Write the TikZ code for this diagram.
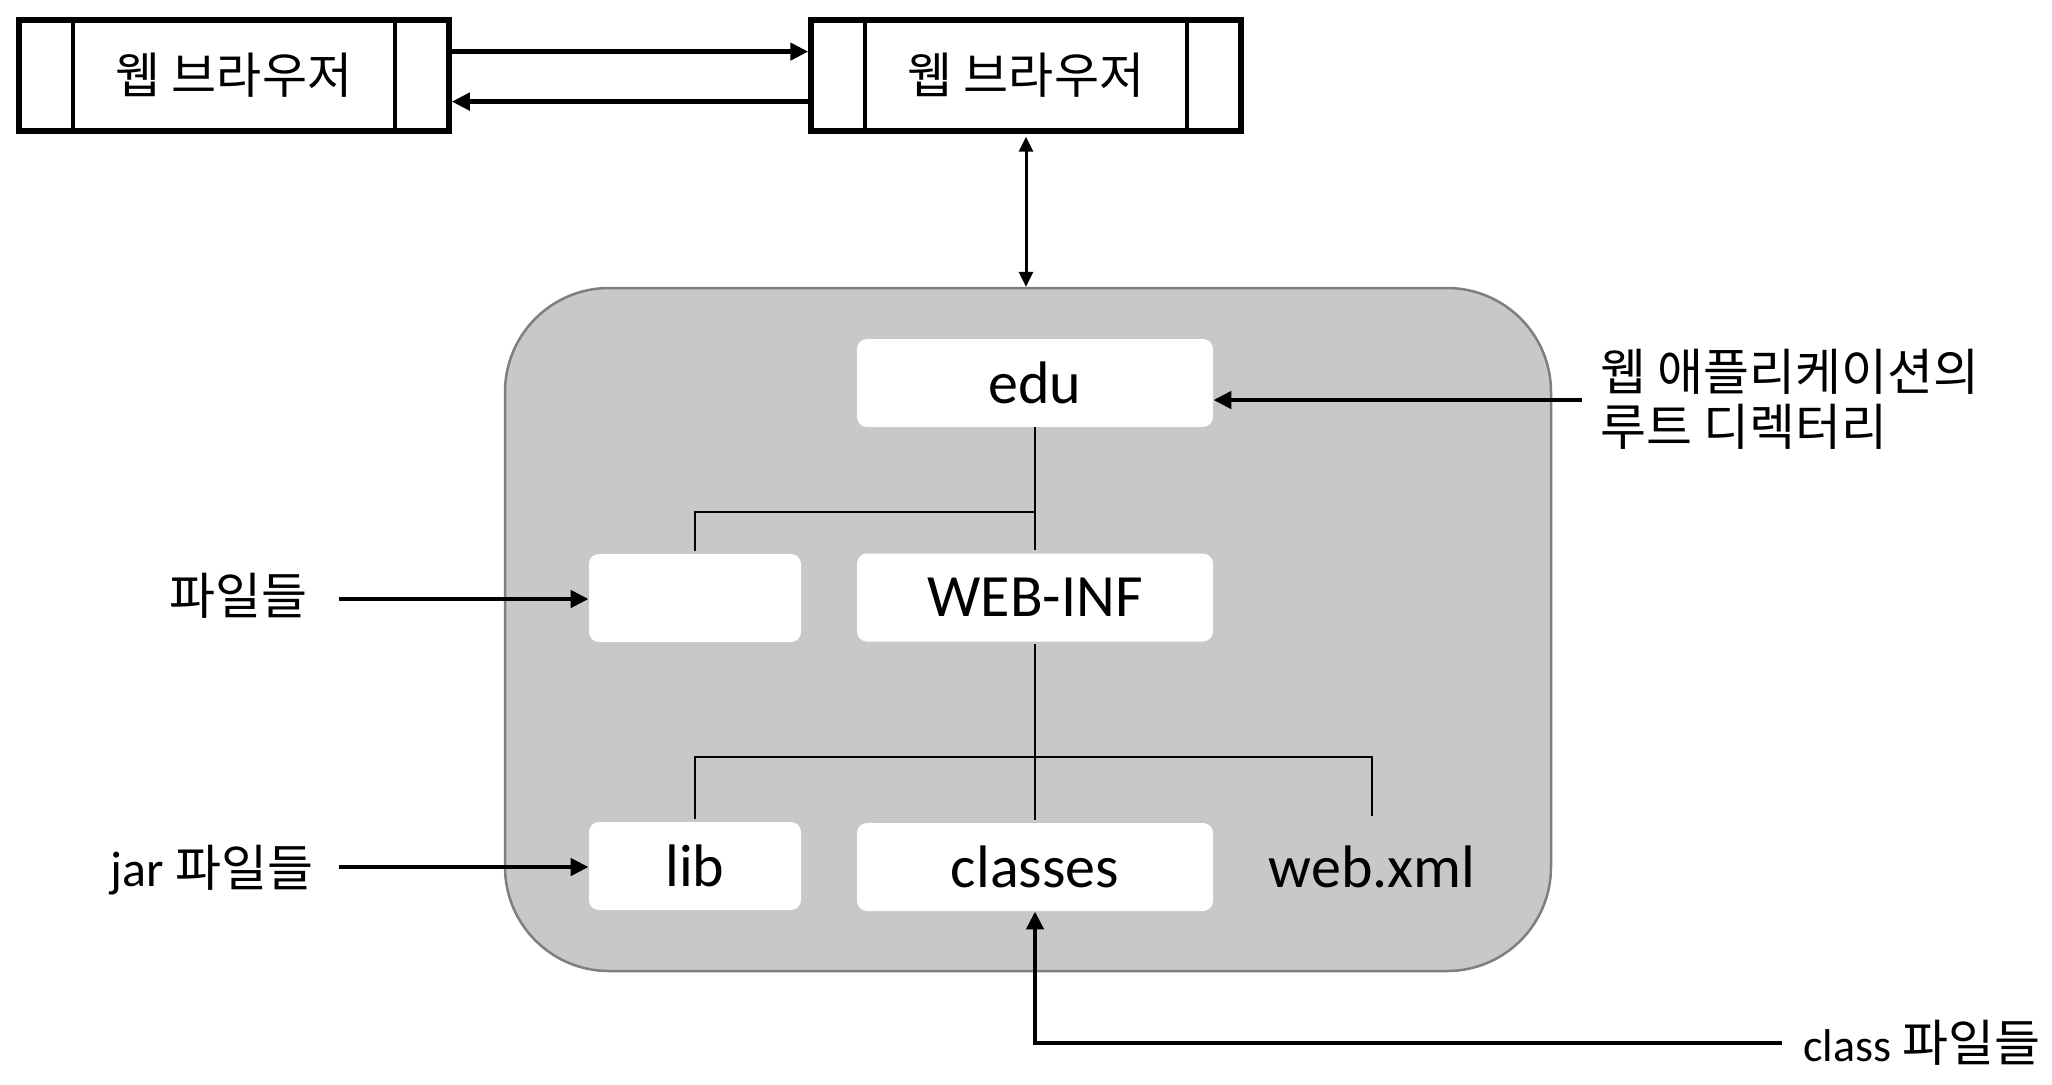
\documentclass[tikz,border=0pt]{standalone}
\usepackage{fontspec}
\setmainfont{Carlito}
\newfontfamily\kr{Noto Sans CJK KR}
\usetikzlibrary{arrows.meta}
\definecolor{panelfill}{HTML}{C8C8C8}
\definecolor{panelline}{HTML}{7F7F7F}
\begin{document}
\begin{tikzpicture}[x=0.5pt,y=-0.5pt,
  browser/.style={draw, line width=2.75pt, minimum width=215pt, minimum height=55.5pt, inner sep=0pt, font=\kr\fontsize{24.5}{28}\selectfont},
  folder/.style={fill=white, rounded corners=5pt, minimum height=44pt, inner sep=0pt, font=\fontsize{30}{36}\selectfont},
  bigfolder/.style={folder, minimum width=178pt},
  smallfolder/.style={folder, minimum width=106pt},
  tree/.style={line width=1pt},
  arr/.style={line width=2.25pt, -{Triangle[length=9pt,width=8.5pt]}},
  lbl/.style={inner sep=0pt, font=\fontsize{25}{27.5}\selectfont}
]
\useasboundingbox (0,0) rectangle (2052,1084);

% browsers
\node[browser] (b1) at (234,75.6) {웹 브라우저};
\node[browser] (b2) at (1026,75.6) {웹 브라우저};
\foreach \b in {b1,b2} {
  \draw[line width=2pt] ([xshift=-80.5pt]\b.north) -- ([xshift=-80.5pt]\b.south);
  \draw[line width=2pt] ([xshift=80.5pt]\b.north) -- ([xshift=80.5pt]\b.south);
}
\draw[arr] ([yshift=12pt]b1.east) -- ([yshift=12pt]b2.west);
\draw[arr] ([yshift=-13pt]b2.west) -- ([yshift=-13pt]b1.east);

% panel
\node[draw=panelline, fill=panelfill, line width=1.25pt, rounded corners=52pt,
      minimum width=523pt, minimum height=341.5pt, inner sep=0pt] (app) at (1028,629.5) {};
\draw[line width=1.5pt, {Triangle[length=7.5pt,width=7pt]}-{Triangle[length=7.5pt,width=7pt]}]
  ([yshift=-1.4pt]b2.south) -- (b2.south |- app.north);

% folders
\node[bigfolder] (edu) at (1035,383) {edu};
\node[smallfolder] (files) at (695,598) {};
\node[bigfolder] (webinf) at (1035,597.5) {WEB-INF};
\node[smallfolder] (lib) at (695,866) {lib};
\node[bigfolder] (classes) at (1035,867) {classes};
\node[folder, fill=none] (webxml) at (1372,867) {web.xml};

% tree
\coordinate (j1) at (1035,512);
\coordinate (j2) at (1035,757);
\draw[tree] (edu.south) -- ([yshift=1.5pt]webinf.north);
\draw[tree] (j1) -| ([yshift=1.5pt]files.north);
\draw[tree] ([yshift=-1pt]webinf.south) -- ([yshift=1.5pt]classes.north);
\draw[tree] (j2) -| ([yshift=1.5pt]lib.north);
\draw[tree] (j2) -| ([yshift=3.5pt]webxml.north);

% labels
\node[lbl, anchor=west, align=left, font=\kr\fontsize{25}{27.5}\selectfont] (root) at (1600,399) {웹 애플리케이션의\\루트 디렉터리};
\node[lbl, anchor=east, font=\kr\fontsize{25}{27.5}\selectfont] (filesl) at (308,596) {파일들};
\node[lbl, anchor=east] (jarl) at (314,870) {jar {\kr 파일들}};
\node[lbl, anchor=west] (classl) at (1803,1043) {{\fontsize{23}{27.5}\selectfont class} {\kr 파일들}};

% label arrows
\coordinate (ra) at (1582,400);
\coordinate (fa) at (339,599);
\coordinate (ja) at (339,867);
\coordinate (ca) at (1782,1043);
\draw[arr] (ra) -- (ra -| edu.east);
\draw[arr] (fa) -- (fa -| files.west);
\draw[arr] (ja) -- (ja -| lib.west);
\draw[arr] (ca) -| (classes.south);
\end{tikzpicture}
\end{document}
